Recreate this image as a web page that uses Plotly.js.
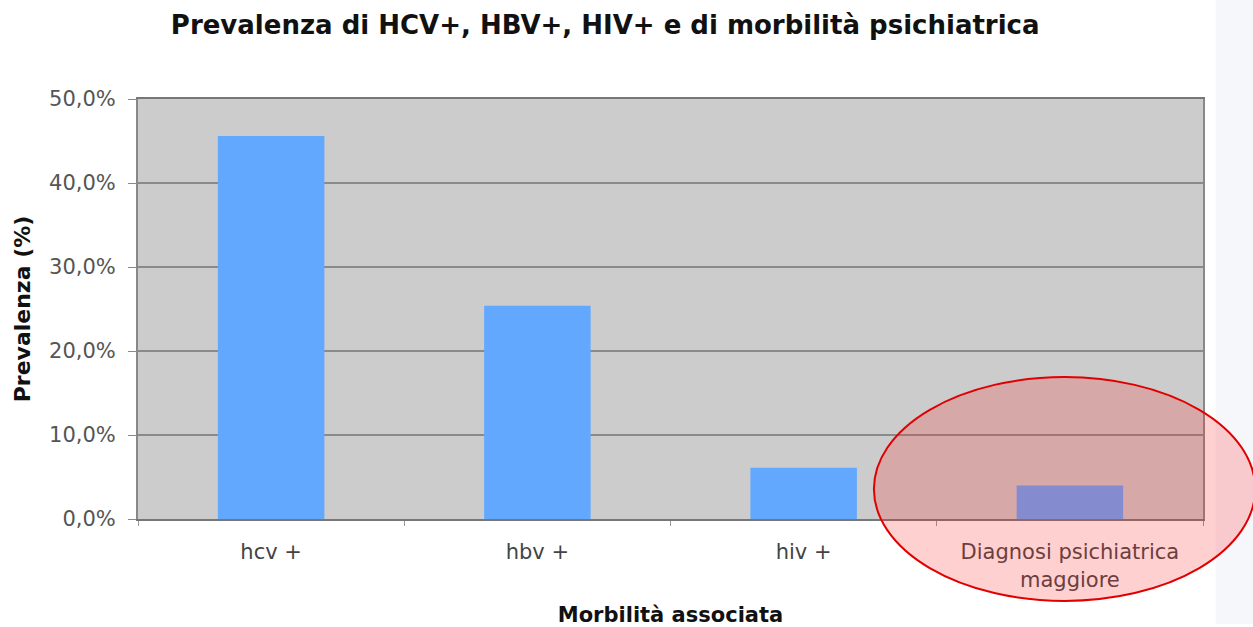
<!DOCTYPE html>
<html>
<head>
<meta charset="utf-8">
<script src="https://cdn.plot.ly/plotly-3.0.1.min.js"></script>
<style>html,body{margin:0;padding:0;background:#fff;}#chart{width:1253px;height:627px;}</style>
</head>
<body>
<div id="chart"></div>
<script>
const categories = ["hcv +", "hbv +", "hiv +", "Diagnosi psichiatrica<br>maggiore"];
const prevalence = [0.456, 0.254, 0.061, 0.040];
const yTickVals = [0, 0.1, 0.2, 0.3, 0.4, 0.5];

const trace = {
  type: 'bar',
  x: categories,
  y: prevalence,
  width: 0.4,
  marker: {color: '#62a8fe', line: {width: 0}},
  hoverinfo: 'none'
};

const layout = {
  width: 1253, height: 627,
  margin: {l: 138, r: 50, t: 99, b: 108},
  paper_bgcolor: '#ffffff',
  plot_bgcolor: '#cccccc',
  separators: ',.',
  showlegend: false,
  font: {family: 'DejaVu Sans, Verdana, sans-serif', color: '#333'},
  title: {
    text: '<b>Prevalenza di HCV+, HBV+, HIV+ e di morbilità psichiatrica</b>',
    font: {size: 26, color: '#111'},
    x: 0.483, xanchor: 'center', y: 0.96, yanchor: 'middle'
  },
  xaxis: {
    type: 'category',
    range: [-0.5, 3.5],
    tickson: 'boundaries',
    ticks: 'outside', ticklen: 5, tickcolor: '#999',
    showline: true, linecolor: '#777', linewidth: 2, mirror: true,
    tickfont: {size: 21, color: '#444'},
    ticklabelstandoff: 13,
    title: {text: '<b>Morbilità associata</b>', font: {size: 21, color: '#111'}, standoff: 20},
    showgrid: false
  },
  yaxis: {
    range: [0, 0.5],
    tickvals: yTickVals,
    tickformat: '.1%',
    ticks: 'outside', ticklen: 8, tickcolor: '#888',
    showline: true, linecolor: '#888', linewidth: 2, mirror: true,
    gridcolor: '#8a8a8a', gridwidth: 2,
    tickfont: {size: 21, color: '#555'},
    ticklabelstandoff: 8,
    title: {text: '<b>Prevalenza (%)</b>', font: {size: 22, color: '#111'}, standoff: 12},
    zeroline: false
  },
  shapes: [
    {type: 'rect', xref: 'paper', yref: 'paper', x0: 1.012, x1: 1.05, y0: -0.25, y1: 1.25,
     fillcolor: '#f6f7fb', line: {width: 0}, layer: 'below'},
    {type: 'circle', xref: 'paper', yref: 'paper', x0: 0.691, x1: 1.049, y0: 0.338, y1: -0.195,
     fillcolor: 'rgba(255,40,40,0.22)', line: {color: '#e00000', width: 2}}
  ]
};

Plotly.newPlot('chart', [trace], layout, {displayModeBar: false, staticPlot: true});
</script>
</body>
</html>
